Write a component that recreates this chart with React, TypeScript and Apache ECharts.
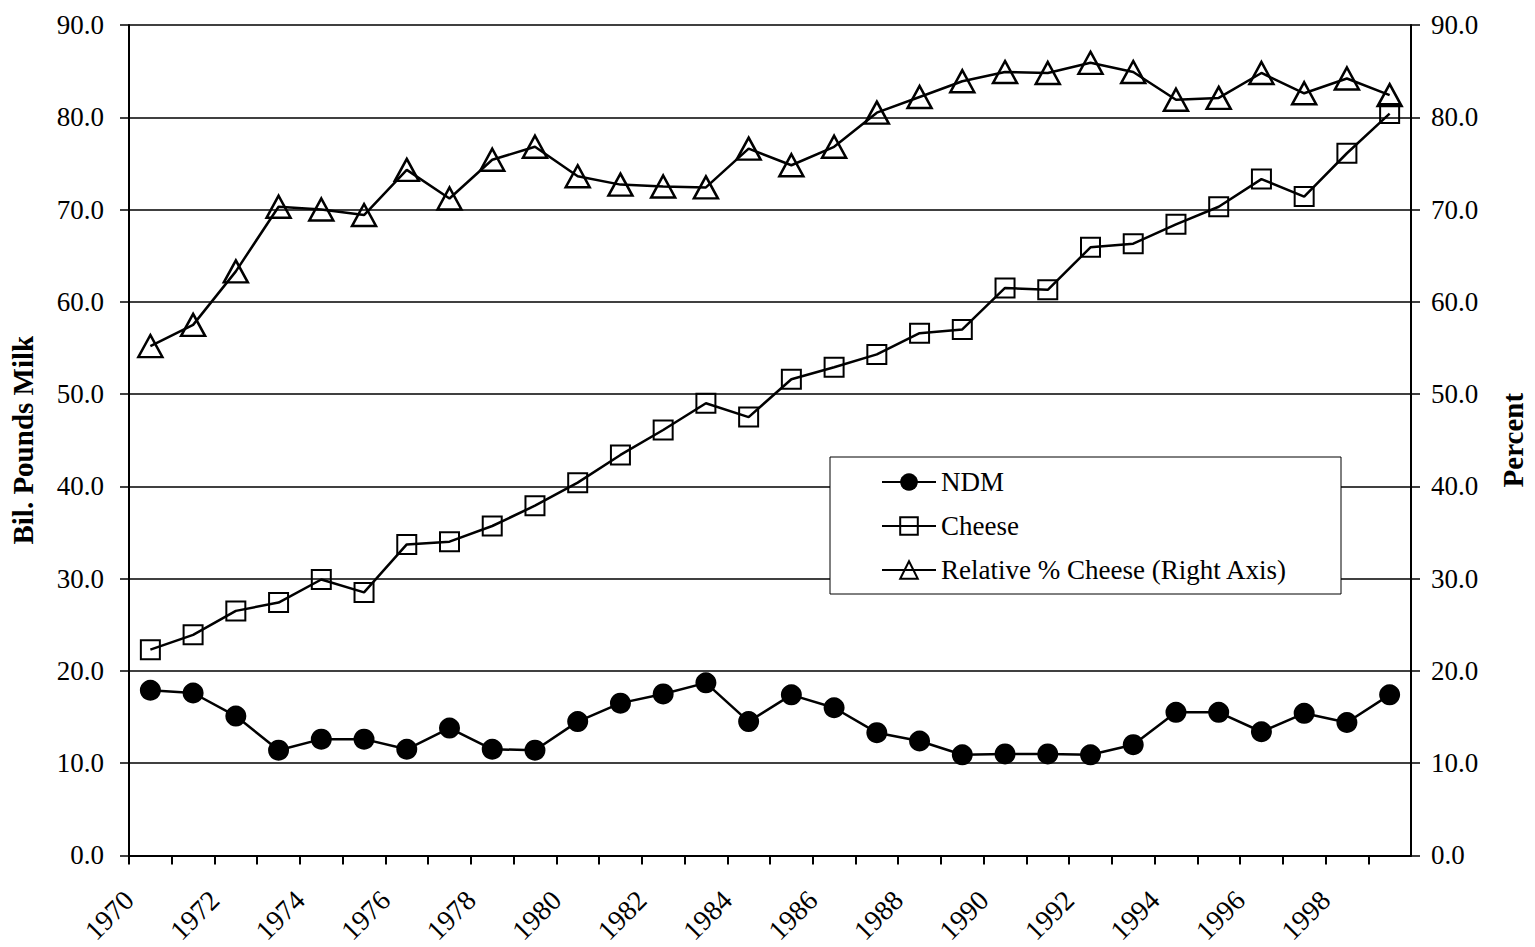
import React, { useEffect, useRef } from "react";
import * as echarts from "echarts";

const years = [1970, 1971, 1972, 1973, 1974, 1975, 1976, 1977, 1978, 1979, 1980, 1981, 1982, 1983, 1984, 1985, 1986, 1987, 1988, 1989, 1990, 1991, 1992, 1993, 1994, 1995, 1996, 1997, 1998, 1999];
const ndm = [17.9, 17.6, 15.1, 11.4, 12.6, 12.6, 11.5, 13.8, 11.5, 11.4, 14.5, 16.5, 17.5, 18.7, 14.5, 17.4, 16.0, 13.3, 12.4, 10.9, 11.0, 11.0, 10.9, 12.0, 15.5, 15.5, 13.4, 15.4, 14.4, 17.4];
const cheese = [22.3, 23.9, 26.5, 27.4, 29.9, 28.5, 33.7, 34.0, 35.7, 37.9, 40.4, 43.4, 46.1, 49.0, 47.5, 51.6, 52.9, 54.3, 56.6, 57.0, 61.5, 61.3, 65.9, 66.3, 68.4, 70.3, 73.3, 71.4, 76.1, 80.4];
const relCheese = [55.2, 57.5, 63.3, 70.3, 70.0, 69.4, 74.3, 71.2, 75.4, 76.8, 73.6, 72.7, 72.5, 72.4, 76.6, 74.8, 76.8, 80.5, 82.2, 83.9, 84.9, 84.8, 85.9, 84.9, 81.9, 82.1, 84.8, 82.6, 84.2, 82.4];
const seriesNames = ["NDM", "Cheese", "Relative % Cheese (Right Axis)"];
const leftAxisName = "Bil. Pounds Milk";
const rightAxisName = "Percent";

const FONT = "'Liberation Serif', 'Times New Roman', serif";

const pts = (vals: number[]) => years.map((y, i) => [y + 0.5, vals[i]]);

export default function App() {
  const ref = useRef<HTMLDivElement>(null);
  useEffect(() => {
    if (!ref.current) return;
    const chart = echarts.init(ref.current, undefined, { renderer: "svg" });
    const yLabel = { color: "#000", fontFamily: FONT, fontSize: 27, formatter: (v: number) => v.toFixed(1) };
    const lineStyle = { color: "#000", width: 2.5 };
    chart.setOption({
      animation: false,
      backgroundColor: "#fff",
      grid: { left: 125, right: 122, top: 25, bottom: 91, containLabel: false },
      xAxis: {
        type: "value",
        min: 1970,
        max: 2000,
        interval: 1,
        axisLine: { show: true, lineStyle: { color: "#000", width: 2 } },
        axisTick: { show: true, inside: false, length: 9, lineStyle: { color: "#000", width: 2 } },
        splitLine: { show: false },
        axisLabel: {
          rotate: 45,
          margin: 40,
          color: "#000",
          fontFamily: FONT,
          fontSize: 28,
          showMaxLabel: false,
          formatter: (v: number) => (v % 2 === 0 && v < 2000 ? String(v) : ""),
        },
      },
      yAxis: [
        {
          type: "value",
          min: 0,
          max: 90,
          interval: 10,
          position: "left",
          name: leftAxisName,
          nameLocation: "middle",
          nameRotate: 90,
          nameGap: 92,
          nameTextStyle: { color: "#000", fontFamily: FONT, fontSize: 29, fontWeight: "bold" },
          axisLine: { show: true, lineStyle: { color: "#000", width: 2 } },
          axisTick: { show: true, inside: false, length: 9, lineStyle: { color: "#000", width: 1.5 } },
          splitLine: { show: true, lineStyle: { color: "#000", width: 1.5 } },
          axisLabel: { ...yLabel, margin: 25 },
        },
        {
          type: "value",
          min: 0,
          max: 90,
          interval: 10,
          position: "right",
          name: rightAxisName,
          nameLocation: "middle",
          nameRotate: 90,
          nameGap: 87,
          nameTextStyle: { color: "#000", fontFamily: FONT, fontSize: 29, fontWeight: "bold" },
          axisLine: { show: true, lineStyle: { color: "#000", width: 2 } },
          axisTick: { show: true, inside: false, length: 9, lineStyle: { color: "#000", width: 1.5 } },
          splitLine: { show: false },
          axisLabel: { ...yLabel, margin: 20 },
        },
      ],
      graphic: [
        {
          type: "rect",
          z: 3,
          shape: { x: 830, y: 457, width: 511, height: 137 },
          style: { fill: "#fff", stroke: "#000", lineWidth: 1 },
        },
      ],
      legend: {
        orient: "vertical",
        left: 881,
        top: 468,
        padding: 0,
        itemGap: 16,
        itemWidth: 54,
        itemHeight: 22,
        z: 10,
        textStyle: { color: "#000", fontFamily: FONT, fontSize: 27, lineHeight: 28 },
        data: seriesNames,
      },
      series: [
        {
          name: seriesNames[0],
          type: "line",
          yAxisIndex: 0,
          data: pts(ndm),
          symbol: "circle",
          symbolSize: 21,
          lineStyle,
          itemStyle: { color: "#000", borderColor: "#000", borderWidth: 0 },
          z: 3,
        },
        {
          name: seriesNames[1],
          type: "line",
          yAxisIndex: 0,
          data: pts(cheese),
          symbol: "rect",
          symbolSize: 19,
          lineStyle,
          itemStyle: { color: "rgba(255,255,255,0)", borderColor: "#000", borderWidth: 2 },
          z: 4,
        },
        {
          name: seriesNames[2],
          type: "line",
          yAxisIndex: 1,
          data: pts(relCheese),
          symbol: "triangle",
          symbolSize: [24, 22],
          lineStyle,
          itemStyle: { color: "rgba(255,255,255,0)", borderColor: "#000", borderWidth: 2.5 },
          z: 5,
        },
      ],
    });
    return () => chart.dispose();
  }, []);
  return <div ref={ref} style={{ width: 1535, height: 947, position: "absolute", left: 0, top: 0 }} />;
}
